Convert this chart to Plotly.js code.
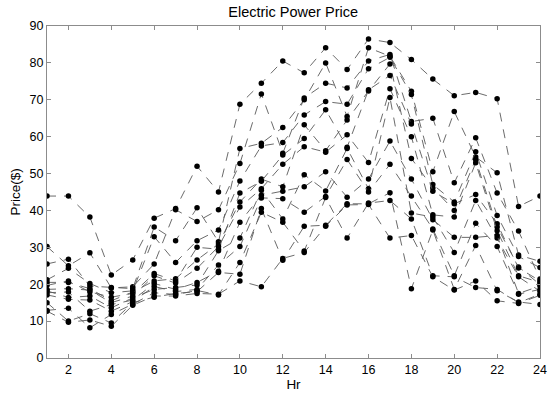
<!DOCTYPE html>
<html>
<head>
<meta charset="utf-8">
<script src="https://cdn.plot.ly/plotly-3.0.1.min.js"></script>
<style>html,body{margin:0;padding:0;background:#fff;}#chart{width:550px;height:397px;}</style>
</head>
<body>
<div id="chart"></div>
<script>
const hours = [1,2,3,4,5,6,7,8,9,10,11,12,13,14,15,16,17,18,19,20,21,22,23,24];
const xTickVals = [2,4,6,8,10,12,14,16,18,20,22,24];

const day1  = [43.9,43.9,38.2,22.5,26.6,37.9,40.5,52.0,45.0,68.8,74.5,80.5,77.3,84.1,78.2,86.5,85.5,80.9,75.6,71.1,72.0,70.3,41.1,43.9];
const day2  = [30.2,25.0,28.5,19.0,19.3,25.5,40.2,37.0,40.2,52.7,71.6,55.5,70.5,74.5,73.2,80.5,82.3,64.1,65.0,47.5,59.7,44.7,34.4,21.4];
const day3  = [25.5,26.8,19.5,19.1,18.8,35.5,31.8,40.7,31.5,56.8,58.2,62.5,70.0,80.0,65.5,84.1,81.8,72.3,50.5,66.8,54.5,50.2,27.9,26.2];
const day4  = [21.2,24.3,20.2,17.7,18.2,32.9,25.9,31.8,34.7,48.0,57.5,58.4,65.9,69.5,68.8,78.4,81.5,71.4,47.0,42.3,55.9,38.6,27.5,24.5];
const day5  = [20.5,20.5,18.8,15.5,17.9,20.9,21.5,26.6,30.9,42.3,48.5,46.4,63.2,56.2,64.5,72.4,79.7,54.1,46.1,40.0,53.8,35.5,24.7,19.9];
const day6  = [19.7,20.9,17.9,16.5,17.5,22.9,20.9,30.0,29.5,44.7,47.9,55.0,59.5,67.3,57.1,72.7,76.6,63.4,45.2,41.8,44.3,36.4,24.4,20.9];
const day7  = [18.6,18.8,18.4,15.0,16.8,22.3,20.3,24.3,30.2,40.9,45.9,52.5,57.3,55.8,60.5,53.0,73.0,60.0,38.8,38.2,52.9,34.5,22.3,20.5];
const day8  = [18.2,16.4,16.8,13.6,16.3,18.6,19.1,19.8,29.1,32.5,45.5,37.7,49.7,45.3,56.8,45.9,70.6,39.3,38.2,28.6,42.7,32.5,22.0,18.1];
const day9  = [17.7,17.9,12.7,14.5,15.7,20.2,18.6,20.5,23.5,36.8,44.1,45.2,46.4,50.5,43.6,48.5,58.8,48.5,37.5,32.7,32.7,33.2,17.5,19.5];
const day10 = [17.1,15.9,15.7,12.7,15.3,19.4,18.0,18.6,25.2,30.2,43.4,43.2,39.5,43.8,53.8,45.0,52.5,43.9,35.0,22.3,36.5,30.2,17.3,18.6];
const day11 = [15.0,10.0,12.0,9.5,15.0,16.5,17.5,18.0,23.2,22.7,40.5,26.5,35.7,36.0,41.8,41.8,44.8,18.8,34.7,18.6,30.5,18.2,15.2,14.5];
const day12 = [12.9,13.5,8.2,11.8,14.6,17.7,17.2,18.3,17.1,25.9,39.5,36.8,29.0,43.5,32.5,42.0,42.7,37.7,22.3,22.0,19.1,18.6,15.0,17.3];
const day13 = [12.7,9.7,10.3,8.6,14.3,16.8,16.8,17.5,17.3,20.9,19.3,27.0,28.6,35.7,41.5,41.6,32.5,33.2,22.0,18.4,20.9,15.5,14.8,17.0];

const days = [day1,day2,day3,day4,day5,day6,day7,day8,day9,day10,day11,day12,day13];

const traces = days.map(d => ({
  x: hours, y: d, type: 'scatter', mode: 'lines+markers',
  line: {color: '#5a5a5a', width: 0.9, dash: '9px,8px'},
  marker: {color: '#000', size: 5.5},
  showlegend: false, hoverinfo: 'skip'
}));

const FONT = 'Liberation Sans, Arial, sans-serif';
const axisCommon = {
  showgrid: false, zeroline: false, showline: true, mirror: 'ticks',
  linecolor: '#8c8c8c', linewidth: 1, ticks: 'inside', ticklen: 4,
  tickcolor: '#8c8c8c', tickfont: {family: FONT, size: 12.5, color: '#000'}
};

const layout = {
  width: 550, height: 397,
  margin: {l: 47, r: 10, t: 26, b: 39},
  paper_bgcolor: '#fff', plot_bgcolor: '#fff',
  title: {text: 'Electric Power Price', font: {family: FONT, size: 14.5, color: '#000'}, x: 0.533, xanchor: 'center', y: 0.97, yanchor: 'middle'},
  xaxis: Object.assign({}, axisCommon, {
    range: [1, 24], tickvals: xTickVals, ticktext: xTickVals.map(String),
    title: {text: 'Hr', font: {family: FONT, size: 13.5, color: '#000'}, standoff: 3}
  }),
  yaxis: Object.assign({}, axisCommon, {
    range: [0, 90], dtick: 10, tick0: 0,
    title: {text: 'Price($)', font: {family: FONT, size: 13.5, color: '#000'}, standoff: 5}
  })
};

Plotly.newPlot('chart', traces, layout, {displayModeBar: false, staticPlot: true});
</script>
</body>
</html>
